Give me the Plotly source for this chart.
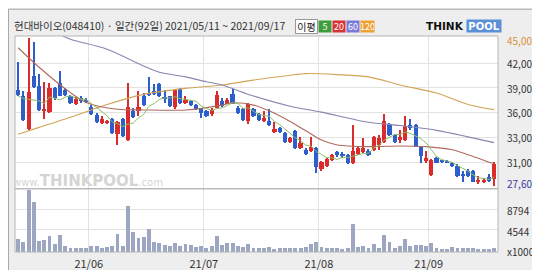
import pandas as pd
import plotly.graph_objects as go

# ---------------- data ----------------
all_days = pd.bdate_range("2021-05-11", "2021-09-17")
holidays = pd.to_datetime(["2021-05-19", "2021-08-16"])
dates = [d for d in all_days if d not in holidays]  # 92 trading days

opens = [38930, 38170, 34340, 40540, 39390, 36400, 36330, 39200, 39700, 38930,
         38240, 37210, 37980, 37790, 36900, 35950, 35070, 35100, 35490, 33770,
         35490, 33000, 36480, 36450, 38170, 38550, 38740, 39580, 38050, 38170,
         36900, 39050, 37400, 37670, 37130, 36750, 36450, 36060, 36830, 37670,
         37290, 38440, 36830, 36640, 35300, 36640, 36060, 35300, 35300, 33960,
         34450, 33840, 32810, 34070, 32040, 31850, 31660, 32040, 29550, 29940,
         30630, 31550, 31390, 31280, 30320, 31390, 31550, 31770, 31850, 32430,
         32810, 34840, 33570, 33000, 33000, 34800, 34800, 32160, 30510, 28870,
         30890, 30590, 30590, 30320, 29940, 28940, 29360, 29360, 28020, 28020,
         28600, 28410]
highs = [42260, 38740, 45000, 44560, 40850, 39890, 39700, 39320, 41120, 39120,
         38360, 38050, 38170, 37980, 37130, 36250, 35870, 35400, 35600, 35300,
         35600, 39700, 36750, 38740, 38550, 40390, 39620, 39700, 38930, 38240,
         39050, 39120, 38170, 37790, 37210, 36830, 36520, 36830, 38740, 37980,
         37980, 39050, 37020, 36750, 37400, 36750, 36250, 36450, 36640, 35100,
         34530, 33960, 33380, 34150, 33380, 32040, 33380, 32230, 30510, 30890,
         31390, 31660, 31550, 31390, 34840, 32230, 33190, 31930, 33460, 33570,
         36060, 34990, 33690, 34150, 35870, 35490, 34910, 32230, 31660, 30780,
         30970, 30700, 30700, 30400, 30130, 29360, 29550, 29470, 28790, 28480,
         28980, 30400]
lows = [38170, 35220, 34150, 39200, 36450, 35490, 36250, 37790, 38170, 38170,
        37290, 37130, 37400, 37400, 35950, 34990, 34910, 34900, 33770, 32430,
        33380, 32920, 35600, 35870, 37020, 38170, 38360, 38050, 37400, 36900,
        36640, 37290, 37290, 37020, 36520, 35600, 35760, 35870, 36750, 36900,
        37210, 37210, 36060, 35220, 34910, 35760, 35220, 35100, 34720, 33840,
        33840, 32700, 32700, 31930, 31930, 31280, 31550, 29170, 29360, 29860,
        30510, 31010, 30890, 30130, 30130, 31280, 31470, 31160, 31770, 31850,
        32700, 33460, 32700, 32620, 32920, 34150, 32160, 30320, 30320, 28790,
        30240, 30320, 30240, 29860, 28600, 28020, 28600, 28020, 27830, 27950,
        28020, 27600]
closes = [38280, 35370, 38630, 39320, 36560, 36710, 39200, 37980, 38240, 38280,
          37400, 37860, 37670, 37590, 36060, 35100, 35490, 35150, 33840, 35100,
          33460, 36900, 35760, 36900, 37130, 38280, 38510, 38170, 37860, 37020,
          38930, 37400, 37790, 37130, 36640, 36250, 35870, 36560, 38280, 37020,
          37790, 37290, 36250, 35370, 37290, 35870, 35370, 35600, 34840, 34340,
          33960, 32810, 33190, 32040, 32620, 31390, 32230, 29860, 30400, 30780,
          31280, 31240, 31090, 30240, 31660, 32040, 32040, 31280, 33310, 33190,
          35300, 33570, 32810, 33380, 34720, 34450, 32230, 31090, 30890, 30700,
          30320, 30470, 30400, 29940, 28790, 28790, 28790, 28100, 28330, 28330,
          28220, 30130]
volumes = [2700, 2070, 12700, 10400, 2400, 2530, 3400, 1730, 3600, 1330,
           930, 930, 930, 930, 1200, 1200, 870, 1070, 1270, 3730,
           1200, 9530, 4070, 2870, 3200, 4730, 2200, 1870, 1530, 1270,
           2000, 1200, 1670, 1400, 1070, 1200, 870, 1270, 3270, 1530,
           1870, 1870, 1200, 1000, 1670, 800, 870, 870, 1000, 730,
           870, 930, 930, 930, 870, 1000, 1730, 2200, 1000, 870,
           870, 800, 730, 800, 5870, 1070, 1270, 930, 1670, 930,
           3600, 2200, 800, 1200, 2670, 1200, 1470, 1470, 1200, 1870,
           870, 670, 670, 1000, 870, 870, 800, 800, 730, 670,
           670, 930]  # x1000 shares

ma5 = [38200, 37900, 37800, 37700, 37630, 37320, 38080, 37950, 37740, 38080,
       38220, 37950, 37890, 37760, 37320, 36860, 36380, 35880, 35130, 34940,
       34610, 34890, 35010, 35620, 36030, 36990, 37320, 37800, 37990, 37970,
       38100, 37880, 37800, 37650, 37580, 37040, 36740, 36490, 36720, 36800,
       37100, 37390, 37330, 36740, 36800, 36410, 36030, 35900, 35790, 35200,
       34820, 34310, 33830, 33270, 32920, 32410, 32290, 31630, 31300, 30930,
       30910, 30710, 30960, 30930, 31100, 31250, 31410, 31450, 32070, 32370,
       33020, 33330, 33640, 33650, 33960, 33790, 33520, 33170, 32680, 31870,
       31050, 30690, 30560, 30370, 29980, 29680, 29340, 28880, 28560, 28470,
       28350, 28620]
ma20_day = [0, 4, 10, 13, 19, 24, 32, 39, 41, 45, 48, 52, 55, 58, 61, 67, 73, 78, 83, 86, 91]
ma20 = [43900, 41600, 38600, 37450, 36640, 36560, 36560, 37130, 37400, 37130, 36450,
        35200, 34100, 33000, 32430, 32230, 32310, 32230, 31850, 31280, 30200]
ma60_day = [8, 10, 17, 24, 27, 32, 36, 39, 45, 52, 58, 67, 73, 80, 86, 91]
ma60 = [45450, 44900, 43720, 41750, 41000, 40460, 39890, 39500, 38200, 37000, 36300,
        35100, 34720, 34150, 33380, 32700]
ma120_day = [0, 4, 11, 17, 24, 32, 39, 45, 52, 55, 61, 67, 73, 80, 86, 91]
ma120 = [33700, 34500, 35900, 37200, 38400, 39100, 39500, 40080, 40660, 40850, 40730,
         40460, 39510, 38550, 37210, 36600]

price_labels = ["45,000", "42,000", "39,000", "36,000", "33,000", "31,000", "27,600"]
price_label_at = [44713, 41991, 39120, 36249, 33308, 30322, 27910]
price_grid = [42071, 39154, 36237, 33320, 30403]
vol_labels = ["8794", "4544", "x1000"]
vol_label_at = [8460, 4150, 150]
vol_grid = [4544, 8794]

title_text = "현대바이오(048410) · 일간(92일) 2021/05/11 ~ 2021/09/17"
ma_names = ["5", "20", "60", "120"]

# ---------------- styling ----------------
UP, DOWN = "#dc2b2b", "#2c5fcb"
MA_COL = {"5": "#8cbd66", "20": "#b06a5c", "60": "#8886ae", "120": "#d2a458"}
LEG_BG = {"5": "#3f9c3c", "20": "#d83232", "60": "#7b79d6", "120": "#eea232"}
FONT = "Noto Sans CJK KR"

PL, PR, PT, PB = 7, 490, 28, 250
W, H = PR - PL, PB - PT
SPLIT = 185


def px(x):
    return (x - PL) / W


def py(y):
    return (PB - y) / H


idx = list(range(len(dates)))
colors = [UP if c >= o else DOWN for o, c in zip(opens, closes)]
body_base = [min(o, c) for o, c in zip(opens, closes)]
body_h = [max(abs(c - o), 110) for o, c in zip(opens, closes)]
wick_h = [h - l for h, l in zip(highs, lows)]

month_pos, month_txt = [], []
for i in range(1, len(dates)):
    if dates[i].month != dates[i - 1].month:
        month_pos.append(i - 0.5)
        month_txt.append(dates[i].strftime("%y/%m"))

fig = go.Figure()

# volume
fig.add_trace(go.Bar(x=idx, y=volumes, width=0.74, marker=dict(color="#9ea7c1", line_width=0),
                     xaxis="x2", yaxis="y2", hoverinfo="skip"))
# wicks + bodies
fig.add_trace(go.Bar(x=idx, y=wick_h, base=lows, width=0.22,
                     marker=dict(color=colors, line_width=0), hoverinfo="skip"))
fig.add_trace(go.Bar(x=idx, y=body_h, base=body_base, width=0.8,
                     marker=dict(color=colors, line_width=0), hoverinfo="skip"))
# moving averages
fig.add_trace(go.Scatter(x=ma120_day, y=ma120, mode="lines",
                         line=dict(color=MA_COL["120"], width=1.1, shape="spline", smoothing=0.8)))
fig.add_trace(go.Scatter(x=ma60_day, y=ma60, mode="lines",
                         line=dict(color=MA_COL["60"], width=1.1, shape="spline", smoothing=0.8)))
fig.add_trace(go.Scatter(x=ma20_day, y=ma20, mode="lines",
                         line=dict(color=MA_COL["20"], width=1.1, shape="spline", smoothing=0.8)))
fig.add_trace(go.Scatter(x=idx, y=ma5, mode="lines",
                         line=dict(color=MA_COL["5"], width=1)))

xr = [-0.6, 91.75]
grid = "#e2e2e2"
split_frac = py(SPLIT)

fig.update_layout(
    width=540, height=270,
    margin=dict(l=PL, r=540 - PR, t=PT, b=270 - PB),
    paper_bgcolor="#eeeeee", plot_bgcolor="white",
    showlegend=False, barmode="overlay", bargap=0,
    font=dict(family=FONT, size=10, color="#333333"),
    xaxis=dict(domain=[0, 1], range=xr, anchor="y", tickvals=month_pos, showticklabels=False,
               showgrid=True, gridcolor=grid, gridwidth=1, zeroline=False, ticks=""),
    yaxis=dict(domain=[split_frac, 1], range=[27255, 45287], side="right", tickvals=price_grid,
               showticklabels=False, showgrid=True, gridcolor=grid, zeroline=False, ticks=""),
    xaxis2=dict(domain=[0, 1], range=xr, anchor="y2", matches="x", tickvals=month_pos,
                ticktext=month_txt, showgrid=True, gridcolor=grid, zeroline=False,
                ticks="outside", ticklen=2, tickcolor="rgba(0,0,0,0)",
                tickfont=dict(family=FONT, size=11, color="#333333")),
    yaxis2=dict(domain=[0, split_frac], range=[0, 13000], side="right", tickvals=vol_grid,
                showticklabels=False, showgrid=True, gridcolor=grid, zeroline=False, ticks=""),
)

shapes = [
    dict(type="rect", xref="paper", yref="paper", x0=0, x1=1, y0=split_frac, y1=1,
         line=dict(color="#b5b5b5", width=1)),
    dict(type="rect", xref="paper", yref="paper", x0=0, x1=1, y0=0, y1=split_frac,
         line=dict(color="#b5b5b5", width=1)),
    dict(type="rect", xref="paper", yref="paper", x0=px(0.5), x1=px(539.5), y0=py(269.5), y1=py(0.5),
         line=dict(color="#a8a8a8", width=1)),
]
fig.update_layout(shapes=shapes)

ann = []
ann.append(dict(text=title_text, xref="paper", yref="paper", x=px(4), y=py(17), xanchor="left",
                yanchor="middle", showarrow=False, font=dict(family=FONT, size=10.5, color="#333333")))
# MA legend
ann.append(dict(text="이평", xref="paper", yref="paper", x=px(298.5), y=py(18), xanchor="center",
                yanchor="middle", showarrow=False, width=21, height=13, bgcolor="white",
                bordercolor="#9a9a9a", borderwidth=1, borderpad=0,
                font=dict(family=FONT, size=10, color="#222222")))
leg_x = {"5": 316.5, "20": 330.5, "60": 344.5, "120": 359}
leg_w = {"5": 12, "20": 12, "60": 12, "120": 13}
for n in ma_names:
    ann.append(dict(text=n, xref="paper", yref="paper", x=px(leg_x[n]), y=py(18), xanchor="center",
                    yanchor="middle", showarrow=False, width=leg_w[n], height=11, bgcolor=LEG_BG[n],
                    borderpad=0, font=dict(family=FONT, size=9, color="white")))
# logo
ann.append(dict(text="<b>THINK</b>", xref="paper", yref="paper", x=px(458), y=py(18), xanchor="right",
                yanchor="middle", showarrow=False, font=dict(family="DejaVu Sans", size=10.5, color="#111111")))
ann.append(dict(text="<b>POOL</b>", xref="paper", yref="paper", x=px(458), y=py(18), xanchor="left",
                yanchor="middle", showarrow=False, bgcolor="#5b8fd6", borderpad=0, width=34, height=12,
                font=dict(family="DejaVu Sans", size=10, color="white")))
# watermark
ann.append(dict(text="www.<span style='font-size:15px'><b>THINKPOOL</b></span>.com", xref="paper",
                yref="paper", x=px(80), y=py(177), xanchor="center", yanchor="middle", showarrow=False,
                font=dict(family="DejaVu Sans", size=10, color="#d4d4d4")))
# price labels
label_col = ["#d8903a"] + ["#333333"] * 5 + ["#3a3aa8"]
for t, v, c in zip(price_labels, price_label_at, label_col):
    ann.append(dict(text=t, xref="paper", yref="y", x=px(497), y=v, xanchor="left", yanchor="middle",
                    showarrow=False, font=dict(family=FONT, size=10, color=c)))
for t, v in zip(vol_labels, vol_label_at):
    ann.append(dict(text=t, xref="paper", yref="y2", x=px(497), y=v, xanchor="left", yanchor="middle",
                    showarrow=False, font=dict(family=FONT, size=10, color="#333333")))
fig.update_layout(annotations=ann)

fig.write_html("out.html")
